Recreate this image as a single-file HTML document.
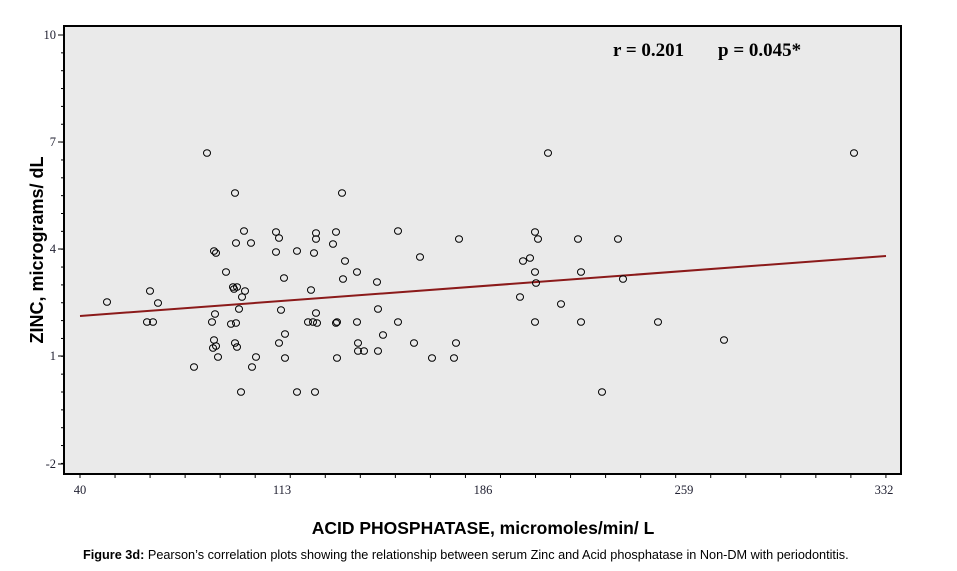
<!DOCTYPE html>
<html><head><meta charset="utf-8"><style>
body{margin:0;background:#fff;width:957px;height:566px;overflow:hidden}
</style></head><body>
<svg width="957" height="566" xmlns="http://www.w3.org/2000/svg">
<rect x="64" y="26" width="837" height="448" fill="#eaeaea" stroke="#000" stroke-width="2"/>
<g stroke="#000" stroke-width="1">
<line x1="58" y1="35" x2="64" y2="35"/><line x1="58" y1="142" x2="64" y2="142"/><line x1="58" y1="249" x2="64" y2="249"/><line x1="58" y1="356" x2="64" y2="356"/><line x1="58" y1="464" x2="64" y2="464"/>
</g>
<g id="ymin" stroke="#000" stroke-width="1"></g>
<g id="xmin" stroke="#000" stroke-width="1"></g>
<g font-family="Liberation Serif, serif" font-size="12.5" fill="#223">
<text x="56" y="39" text-anchor="end">10</text>
<text x="56" y="146" text-anchor="end">7</text>
<text x="56" y="253" text-anchor="end">4</text>
<text x="56" y="360" text-anchor="end">1</text>
<text x="56" y="468" text-anchor="end">-2</text>
<text x="80" y="494" text-anchor="middle">40</text>
<text x="282" y="494" text-anchor="middle">113</text>
<text x="483" y="494" text-anchor="middle">186</text>
<text x="684" y="494" text-anchor="middle">259</text>
<text x="884" y="494" text-anchor="middle">332</text>
</g>
<line x1="80" y1="316" x2="886" y2="256" stroke="#8b1a1a" stroke-width="2"/>
<g id="pts" fill="none" stroke="#000" stroke-width="1"></g>
<text x="613" y="56" font-family="Liberation Serif, serif" font-weight="bold" font-size="19">r = 0.201</text>
<text x="718" y="56" font-family="Liberation Serif, serif" font-weight="bold" font-size="19">p = 0.045*</text>
<text transform="translate(43,250) rotate(-90)" text-anchor="middle" font-family="Liberation Sans, sans-serif" font-weight="bold" font-size="18">ZINC, micrograms/ dL</text>
<text x="483" y="534" text-anchor="middle" font-family="Liberation Sans, sans-serif" font-weight="bold" font-size="17.5">ACID PHOSPHATASE, micromoles/min/ L</text>
<text x="83" y="559" font-family="Liberation Sans, sans-serif" font-size="12.7"><tspan font-weight="bold">Figure 3d:</tspan> Pearson’s correlation plots showing the relationship between serum Zinc and Acid phosphatase in Non-DM with periodontitis.</text>
</svg>
<script>
var ns="http://www.w3.org/2000/svg";
var ym=document.getElementById('ymin');
for(var i=0;i<=24;i++){var y=35+i*17.85;var l=document.createElementNS(ns,'line');l.setAttribute('x1',61);l.setAttribute('x2',64);l.setAttribute('y1',y);l.setAttribute('y2',y);ym.appendChild(l);}
var xm=document.getElementById('xmin');
for(var i=0;i<=23;i++){var x=80+i*35.04;var l=document.createElementNS(ns,'line');l.setAttribute('x1',x);l.setAttribute('x2',x);l.setAttribute('y1',474);l.setAttribute('y2',478);xm.appendChild(l);}
var P=[[107,302],[150,291],[158,303],[147,322],[153,322],[194,367],[207,153],[212,322],[214,340],[215,314],[213,348],[216,346],[218,357],[214,251],[216,253],[226,272],[231,324],[233,287],[235,193],[236,243],[234,289],[235,343],[237,287],[237,347],[236,323],[239,309],[241,392],[242,297],[244,231],[245,291],[251,243],[252,367],[256,357],[276,232],[276,252],[279,238],[279,343],[281,310],[284,278],[285,334],[285,358],[297,392],[297,251],[308,322],[311,290],[313,322],[314,253],[315,392],[316,313],[316,233],[316,239],[317,323],[333,244],[336,232],[336,323],[337,322],[337,358],[342,193],[343,279],[345,261],[357,272],[357,322],[358,343],[358,351],[364,351],[377,282],[378,309],[378,351],[383,335],[398,231],[398,322],[414,343],[420,257],[432,358],[454,358],[456,343],[459,239],[520,297],[523,261],[530,258],[535,232],[535,272],[536,283],[535,322],[538,239],[548,153],[561,304],[578,239],[581,272],[581,322],[602,392],[618,239],[623,279],[658,322],[724,340],[854,153]];
var g=document.getElementById('pts');
P.forEach(function(p){var e=document.createElementNS(ns,'ellipse');e.setAttribute('cx',p[0]);e.setAttribute('cy',p[1]);e.setAttribute('rx',3.5);e.setAttribute('ry',3.3);g.appendChild(e);});
</script>
</body></html>
